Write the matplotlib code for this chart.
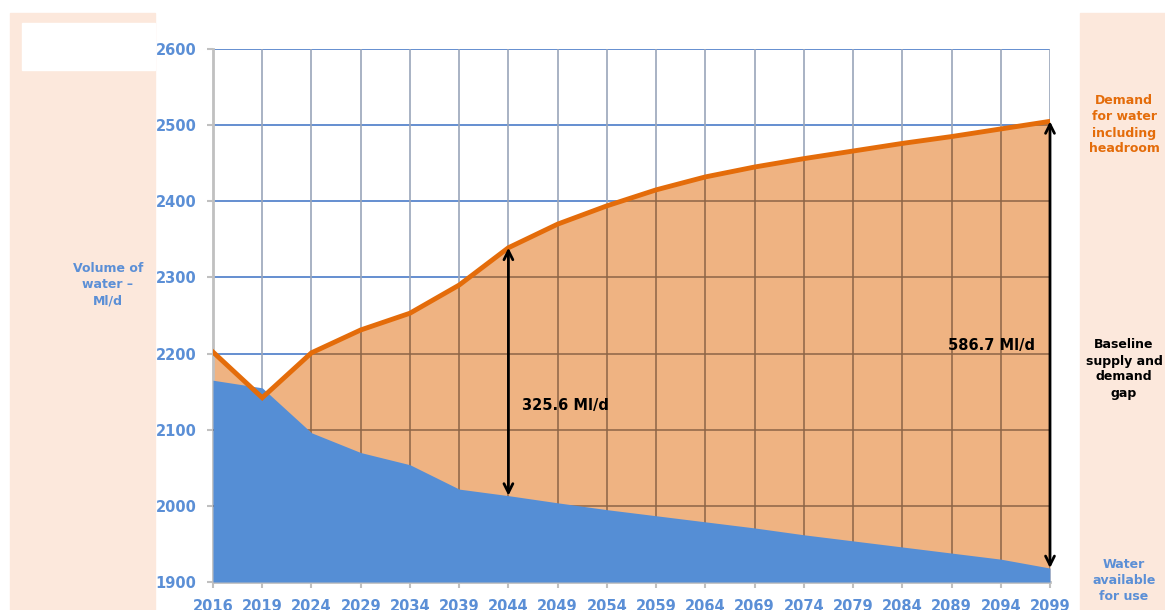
import numpy as np
import matplotlib.pyplot as plt
from matplotlib.patches import Rectangle

years = ["2016", "2019", "2024", "2029", "2034", "2039", "2044", "2049", "2054",
         "2059", "2064", "2069", "2074", "2079", "2084", "2089", "2094", "2099"]
demand = [2202, 2142, 2201, 2231, 2253, 2290, 2339, 2370, 2394,
          2415, 2432, 2445, 2456, 2466, 2476, 2485, 2495, 2505]
supply = [2165, 2155, 2096, 2070, 2054, 2022, 2013.4, 2004, 1995,
          1987, 1979, 1971, 1962, 1954, 1946, 1938, 1930, 1918.3]
gap_2044 = 325.6
gap_2099 = 586.7

BLUE = '#558ed5'
ORANGE = '#e46c0a'
FILL = '#efb382'
PEACH = '#fce8dc'
TEXT_BLUE = '#5b8fd6'

plt.rcParams['font.family'] = ['DejaVu Sans']
plt.rcParams['font.weight'] = 'bold'

fig = plt.figure(figsize=(11.65, 6.1), dpi=100)
W, H = 1165, 610

# side panels
fig.patches.append(Rectangle((10 / W, 0), 145 / W, 1 - 13 / H, transform=fig.transFigure,
                             color=PEACH, zorder=0))
fig.patches.append(Rectangle((22 / W, 1 - 70 / H), 133 / W, 47 / H, transform=fig.transFigure,
                             color='white', zorder=0))
fig.patches.append(Rectangle((1080 / W, 0), 85 / W, 1 - 13 / H, transform=fig.transFigure,
                             color=PEACH, zorder=0))

ax = fig.add_axes([213 / W, 1 - 582 / H, (1050 - 213) / W, (582 - 49) / H])
ax.set_zorder(2)
x = np.arange(len(years))

ax.set_xlim(0, len(years) - 1)
ax.set_ylim(1900, 2600)
ax.set_yticks(np.arange(1900, 2601, 100))
ax.set_xticks(x)
ax.set_xticklabels(years)

# grid in the white part
for yv in np.arange(2000, 2601, 100):
    ax.axhline(yv, color='#4a7cc8', lw=1.2, zorder=1)
for xv in x[1:]:
    ax.axvline(xv, color='#9aa6ba', lw=1.2, zorder=1)

gap_fill = ax.fill_between(x, 1900, demand, color=FILL, lw=0, zorder=2)
clip = gap_fill.get_paths()[0]

# grid seen through the gap area
for yv in np.arange(2000, 2601, 100):
    ln = ax.axhline(yv, color='#8c6446', lw=1.1, zorder=3)
    ln.set_clip_path(clip, ax.transData)
for xv in x[1:]:
    ln = ax.axvline(xv, color='#8c6446', lw=1.1, zorder=3)
    ln.set_clip_path(clip, ax.transData)

ax.fill_between(x, 1900, supply, color=BLUE, lw=0, zorder=4)
ax.plot(x, demand, color=ORANGE, lw=3.5, zorder=5, solid_joinstyle='miter')

# gap arrows
i44 = years.index("2044")
i99 = years.index("2099")
for i, gap in [(i44, gap_2044), (i99, gap_2099)]:
    ax.annotate('', xy=(i, demand[i]), xytext=(i, demand[i] - gap),
                arrowprops=dict(arrowstyle='<->', color='black', lw=2,
                                mutation_scale=16, shrinkA=0, shrinkB=0), zorder=6)
ax.text(i44 + 0.28, 2132, f'{gap_2044} Ml/d', fontsize=10.5, fontweight='bold',
        va='center', ha='left', zorder=7)
ax.text(i99 - 0.3, 2210, f'{gap_2099} Ml/d', fontsize=10.5, fontweight='bold',
        va='center', ha='right', zorder=7)

for s in ['top', 'right']:
    ax.spines[s].set_visible(False)
for s in ['left', 'bottom']:
    ax.spines[s].set_color('#c0c0c0')
    ax.spines[s].set_linewidth(2)
ax.tick_params(axis='both', colors='#c0c0c0', length=4, width=1.5)
ax.tick_params(axis='y', pad=8)
ax.tick_params(axis='x', pad=8)
for lab in ax.get_xticklabels() + ax.get_yticklabels():
    lab.set_color(TEXT_BLUE)
    lab.set_fontsize(10.5)
    lab.set_fontweight('bold')
ax.set_facecolor('white')

# side labels
side = dict(fontsize=9, fontweight='bold', ha='center', va='center', linespacing=1.3)
fig.text(108 / W, 1 - 285 / H, 'Volume of\nwater –\nMl/d', color=TEXT_BLUE, **side)
fig.text(1124 / W, 1 - 125 / H, 'Demand\nfor water\nincluding\nheadroom', color=ORANGE, **side)
fig.text(1124 / W, 1 - 369 / H, 'Baseline\nsupply and\ndemand\ngap', color='black', **side)
fig.text(1124 / W, 1 - 581 / H, 'Water\navailable\nfor use', color=TEXT_BLUE, **side)

fig.savefig('out.png', dpi=100)
